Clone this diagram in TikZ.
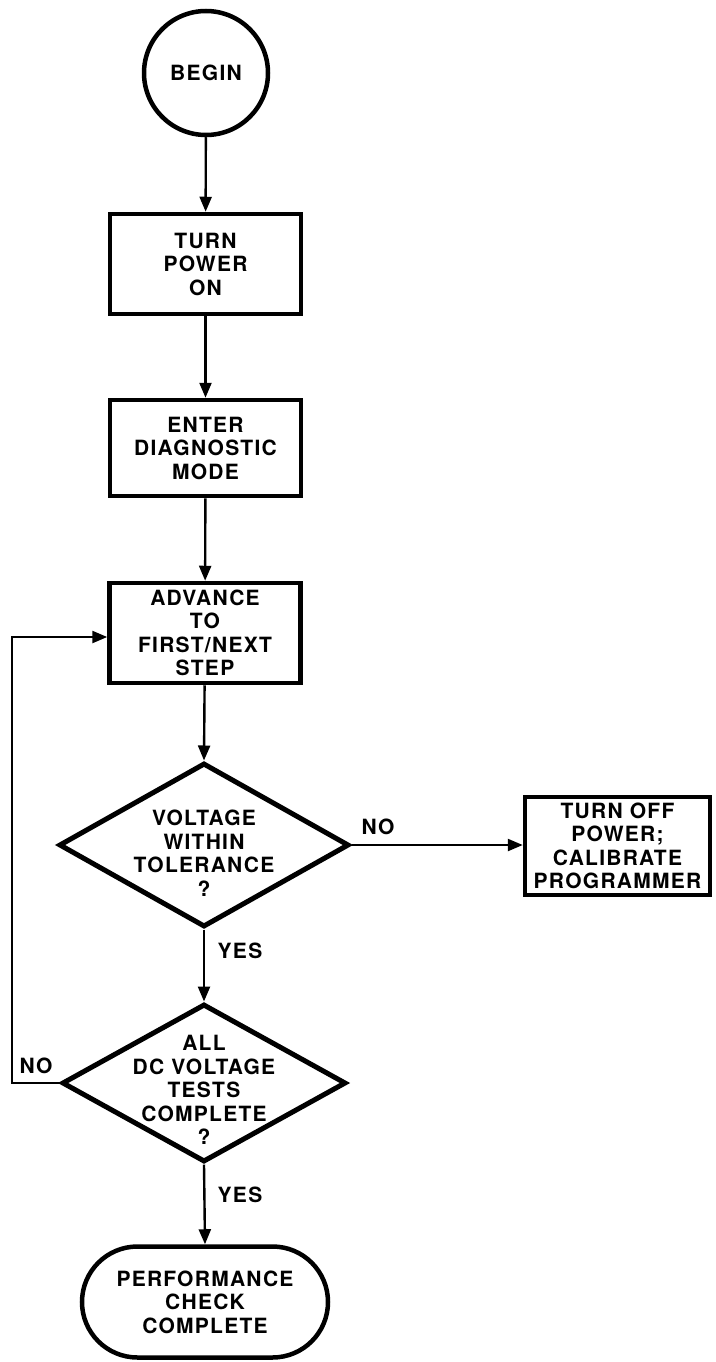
\documentclass[tikz,border=0pt]{standalone}
\usepackage{fontspec}
\setmainfont{TeX Gyre Heros}[LetterSpace=6.0]
\usetikzlibrary{shapes.geometric,shapes.misc,arrows.meta}
\begin{document}
\begin{tikzpicture}[x=1pt,y=-1pt,
  txt/.style={align=center,inner sep=0pt,font=\fontsize{21pt}{23.5pt}\selectfont\bfseries},
  stepbox/.style={txt,draw,line width=4.5pt,minimum width=191pt,minimum height=100pt},
  decide/.style={draw,diamond,line width=5pt,inner sep=0pt},
  conn/.style={line width=2.4pt,-{Triangle[length=15pt,width=12pt]}},
  lbl/.style={txt}
]
\useasboundingbox (0,0) rectangle (715,1362);

\node[txt,draw,circle,line width=4.5pt,minimum size=124pt] (begin) at (206,73) {BEGIN};
\node[stepbox] (power) at (205.5,264) {TURN\\POWER\\ON};
\node[stepbox,minimum height=96pt] (enter) at (205.5,448) {ENTER\\DIAGNOSTIC\\MODE};
\node[stepbox] (advance) at (205,633) {ADVANCE\\TO\\FIRST/NEXT\\STEP};

\node[decide,minimum width=290pt,minimum height=164pt] (d1) at (204,845) {};
\node[txt] (d1t) at (204,853) {VOLTAGE\\WITHIN\\TOLERANCE\\?};

\node[stepbox,minimum width=185pt,minimum height=98pt] (off) at (617.5,846) {TURN OFF\\POWER;\\CALIBRATE\\PROGRAMMER};

\node[decide,minimum width=284pt,minimum height=158pt] (d2) at (204,1083) {};
\node[txt] (d2t) at (204,1090) {ALL\\DC VOLTAGE\\TESTS\\COMPLETE\\?};

\node[txt,draw,rounded rectangle,line width=4.5pt,minimum width=246pt,minimum height=111pt] (end) at (205,1302) {PERFORMANCE\\CHECK\\COMPLETE};

\draw[conn] (begin) -- (power);
\draw[conn] (power) -- (enter);
\draw[conn] (enter) -- (advance);
\draw[conn] (advance) -- (d1.north);
\draw[conn] (d1.east) -- (d1.east -| off.west);
\draw[conn] (d1.south) -- (d2.north);
\draw[conn] (d2.south) -- (end.north);
\coordinate (lp) at (12,637);
\draw[conn] (d2.west) -| (lp) -- (advance.west |- lp);

\node[lbl] (no1) at (378,827) {NO};
\node[lbl] (yes1) at (240,951) {YES};
\node[lbl] (no2) at (36,1066) {NO};
\node[lbl] (yes2) at (240,1195) {YES};
\end{tikzpicture}
\end{document}
